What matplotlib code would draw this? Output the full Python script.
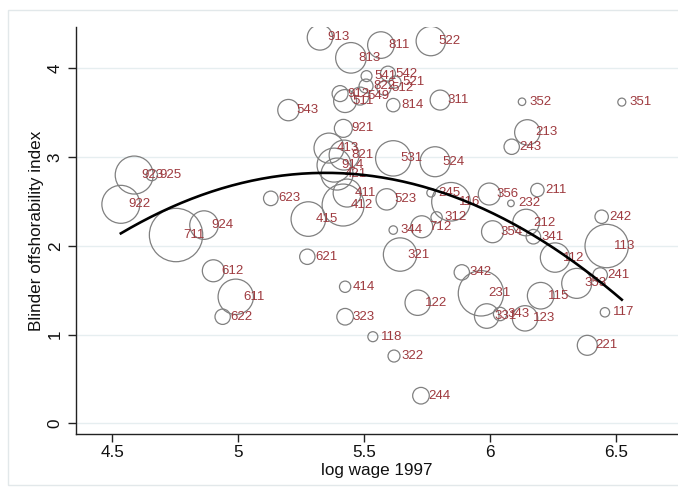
import matplotlib
matplotlib.use('Agg')
import matplotlib.pyplot as plt
import numpy as np
from matplotlib.patches import Rectangle

plt.rcParams['font.family'] = ['Liberation Sans', 'DejaVu Sans']

# ---- data ----
occ_labels = ["913", "811", "522", "813", "541", "542", "521", "822", "512", "912",
              "549", "511", "814", "311", "543", "921", "413", "821", "914", "421",
              "411", "412", "415", "623", "523", "531", "524", "245", "116", "312",
              "712", "344", "621", "321", "356", "354", "213", "243", "211", "232",
              "212", "341", "242", "113", "112", "241", "353", "115", "123", "117",
              "221", "342", "414", "122", "231", "323", "331", "343", "118", "322",
              "244", "923", "925", "922", "711", "924", "612", "611", "622", "352", "351"]

log_wage = [5.325, 5.567, 5.765, 5.448, 5.510, 5.595, 5.623, 5.508, 5.579, 5.405,
            5.484, 5.425, 5.616, 5.802, 5.200, 5.418, 5.361, 5.421, 5.381, 5.393,
            5.433, 5.417, 5.279, 5.130, 5.590, 5.616, 5.782, 5.766, 5.845, 5.788,
            5.729, 5.616, 5.275, 5.643, 5.997, 6.010, 6.148, 6.086, 6.188, 6.083,
            6.143, 6.172, 6.443, 6.463, 6.258, 6.437, 6.344, 6.201, 6.139, 6.456,
            6.386, 5.888, 5.425, 5.713, 5.964, 5.425, 5.987, 6.040, 5.535, 5.619,
            5.726, 4.588, 4.658, 4.535, 4.754, 4.865, 4.902, 4.991, 4.939, 6.127, 6.523]

offshor = [4.349, 4.263, 4.308, 4.119, 3.913, 3.941, 3.846, 3.801, 3.778, 3.716,
           3.688, 3.632, 3.586, 3.643, 3.530, 3.324, 3.102, 3.023, 2.910, 2.809,
           2.595, 2.460, 2.302, 2.535, 2.524, 2.986, 2.948, 2.598, 2.497, 2.321,
           2.215, 2.178, 1.877, 1.902, 2.584, 2.159, 3.279, 3.117, 2.629, 2.479,
           2.263, 2.103, 2.328, 1.998, 1.868, 1.671, 1.577, 1.438, 1.183, 1.251,
           0.879, 1.701, 1.539, 1.359, 1.465, 1.201, 1.209, 1.232, 0.976, 0.758,
           0.311, 2.798, 2.798, 2.468, 2.122, 2.234, 1.719, 1.426, 1.201, 3.624, 3.620]

employment = [16.1, 17.7, 21.6, 23.4, 3.0, 5.6, 3.6, 4.9, 4.9, 6.4,
              8.1, 13.2, 4.5, 10.0, 11.4, 8.1, 22.5, 22.5, 28.9, 25.6,
              19.6, 44.1, 29.9, 5.3, 11.4, 31.3, 22.5, 1.8, 37.2, 3.2,
              12.1, 1.8, 5.9, 27.9, 12.1, 12.1, 16.1, 5.9, 4.5, 1.1,
              17.7, 5.3, 4.5, 47.1, 21.6, 5.3, 22.5, 17.7, 16.1, 2.2,
              10.0, 5.9, 3.2, 16.1, 51.5, 6.9, 15.1, 4.5, 2.5, 3.6,
              6.9, 36.1, 3.2, 36.1, 71.3, 20.4, 12.1, 31.3, 5.9, 1.4, 1.6]

# quadratic fit coefficients (highest power first)
fit_coef = [-1.034, 11.058, -26.742]

x_ticks = [4.5, 5, 5.5, 6, 6.5]
x_ticklabels = ["4.5", "5", "5.5", "6", "6.5"]
y_ticks = [0, 1, 2, 3, 4]

# ---- figure ----
W, H = 678, 495
fig = plt.figure(figsize=(W / 100, H / 100), dpi=100)
fig.patches.append(Rectangle((8 / W, 1 - 485 / H), 720 / W, (485 - 10) / H,
                             transform=fig.transFigure, fill=False,
                             edgecolor='#E2E8EA', lw=1.0))

ax = fig.add_axes([76 / W, 1 - 434.3 / H, 1 - 76 / W, (434.3 - 26.7) / H])
ax.set_xlim(4.357, 6.746)
ax.set_ylim(-0.124, 4.47)

ax.set_yticks(y_ticks)
ax.set_xticks(x_ticks)
ax.set_xticklabels(x_ticklabels)
ax.yaxis.grid(True, color='#E6EEF0', lw=1.0)
ax.set_axisbelow(True)

for s in ['top', 'right']:
    ax.spines[s].set_visible(False)
for s in ['left', 'bottom']:
    ax.spines[s].set_color('#222222')
    ax.spines[s].set_linewidth(1.0)

ax.tick_params(direction='out', length=5.5, width=1.0, color='#222222',
               labelsize=12.3, labelcolor='#111111')
ax.tick_params(axis='x', pad=2.5)
ax.tick_params(axis='y', pad=4)
for lab in ax.get_yticklabels():
    lab.set_rotation(90)
    lab.set_va('center')

ax.set_xlabel('log wage 1997', fontsize=12.3, labelpad=2, color='#111111')
ax.set_ylabel('Blinder offshorability index', fontsize=12.3, labelpad=3, color='#111111')

sizes = np.array(employment) * 20.7
ax.scatter(log_wage, offshor, s=sizes, facecolors='none', edgecolors='#808080',
           linewidths=0.9, zorder=2)

for lab, xv, yv in zip(occ_labels, log_wage, offshor):
    ax.annotate(lab, (xv, yv), xytext=(5.5, 0), textcoords='offset points',
                ha='left', va='center', fontsize=9.5, color='#9E3A3F', zorder=3)

xs = np.linspace(min(log_wage), max(log_wage), 200)
ax.plot(xs, np.polyval(fit_coef, xs), color='black', lw=1.9, zorder=4)

fig.savefig('out.png', dpi=100)
